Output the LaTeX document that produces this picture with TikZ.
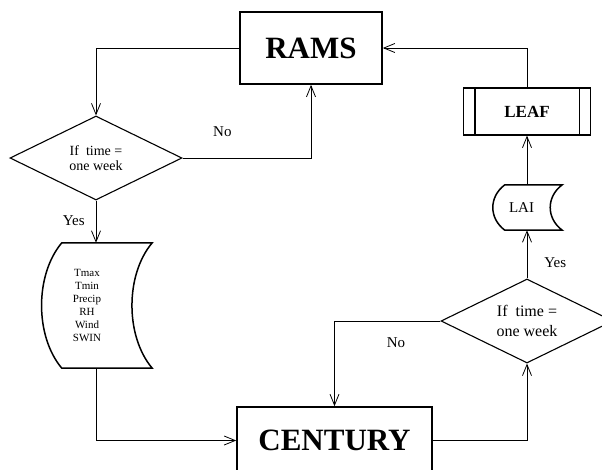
\documentclass[tikz,border=0pt]{standalone}
\usepackage{fontspec}
\setmainfont{Liberation Serif}
\usepackage{tikz}
\usetikzlibrary{shapes.geometric, arrows.meta}
\tikzstyle{process} = [rectangle, minimum width=142pt, minimum height=72pt, text centered, draw=black, line width=1.6pt, font=\bfseries\fontsize{31}{34}\selectfont]
\tikzstyle{subproc} = [rectangle, minimum width=127pt, minimum height=47pt, text centered, draw=black, line width=1.2pt, font=\bfseries\fontsize{17}{20}\selectfont]
\tikzstyle{decision} = [diamond, aspect=2, minimum width=172pt, minimum height=84pt, inner sep=0pt, text centered, align=center, draw=black, line width=1.1pt, font=\fontsize{14}{15}\selectfont]
\tikzstyle{store} = [rectangle, inner sep=0pt, text centered, align=center]
\tikzstyle{storeline} = [line width=1.5pt]
\tikzstyle{lbl} = [inner sep=0pt, font=\fontsize{15}{18}\selectfont]
\tikzstyle{arrow} = [line width=0.8pt, -{Straight Barb[length=11pt,width=9pt]}]

\begin{document}
\begin{tikzpicture}[node distance=110pt]
\useasboundingbox (0,0) rectangle (602pt,-469pt);
\node (rams) [process] at (311pt,-48pt) {RAMS};
\node (dec1) [decision, below of=rams, xshift=-215pt] {If\ \ time =\\one week};
\node (wx) [store, minimum width=90pt, minimum height=125pt, below of=dec1, yshift=-37.5pt, xshift=-9pt, font=\fontsize{11}{13}\selectfont] {Tmax\\Tmin\\Precip\\RH\\Wind\\SWIN};
\node (cent) [process, minimum width=195pt, minimum height=67pt, below of=wx, yshift=-25pt, xshift=247.5pt] {CENTURY};
\node (dec2) [decision, above of=cent, yshift=9.5pt, xshift=192.5pt, font=\fontsize{16}{20}\selectfont] {If\ \ time =\\one week};
\node (lai) [store, minimum width=57pt, minimum height=45pt, above of=dec2, yshift=3.5pt, xshift=-5.5pt, font=\fontsize{15}{18}\selectfont] {LAI};
\node (leaf) [subproc, above of=lai, yshift=-14pt, xshift=5.5pt] {LEAF};
% stored data outlines
\draw [storeline] ([xshift=20pt]wx.north west) -- ([xshift=20pt]wx.north east)
  .. controls +(-27pt,-32pt) and +(-27pt,32pt) .. ([xshift=20pt]wx.south east)
  -- ([xshift=20pt]wx.south west)
  .. controls +(-27pt,32pt) and +(-27pt,-32pt) .. ([xshift=20pt]wx.north west) -- cycle;
\draw [storeline] ([xshift=12pt]lai.north west) -- ([xshift=12pt]lai.north east)
  .. controls +(-16pt,-12pt) and +(-16pt,12pt) .. ([xshift=12pt]lai.south east)
  -- ([xshift=12pt]lai.south west)
  .. controls +(-16pt,12pt) and +(-16pt,-12pt) .. ([xshift=12pt]lai.north west) -- cycle;
\draw [line width=1.2pt] ([xshift=12pt]leaf.north west) -- ([xshift=12pt]leaf.south west);
\draw [line width=1.2pt] ([xshift=-12pt]leaf.north east) -- ([xshift=-12pt]leaf.south east);
\draw [arrow] (rams.west) -| (dec1.north);
\draw [arrow] (dec1.east) -| node[lbl, pos=0.155, above=21pt] {No} (rams.south);
\draw [arrow] (dec1.south) -- node[lbl, pos=0.47, left=11pt] {Yes} ([xshift=9pt]wx.north);
\draw [arrow] ([xshift=9pt]wx.south) |- (cent.west);
\draw [arrow] (cent.east) -| (dec2.south);
\draw [arrow] (dec2.west) -| node[lbl, pos=0.21, below=16pt] {No} (cent.north);
\draw [arrow] (dec2.north) -- node[lbl, pos=0.33, right=17pt] {Yes} ([xshift=5.5pt]lai.south);
\draw [arrow] ([xshift=5.5pt]lai.north) -- (leaf.south);
\draw [arrow] (leaf.north) |- (rams.east);
\end{tikzpicture}
\end{document}
